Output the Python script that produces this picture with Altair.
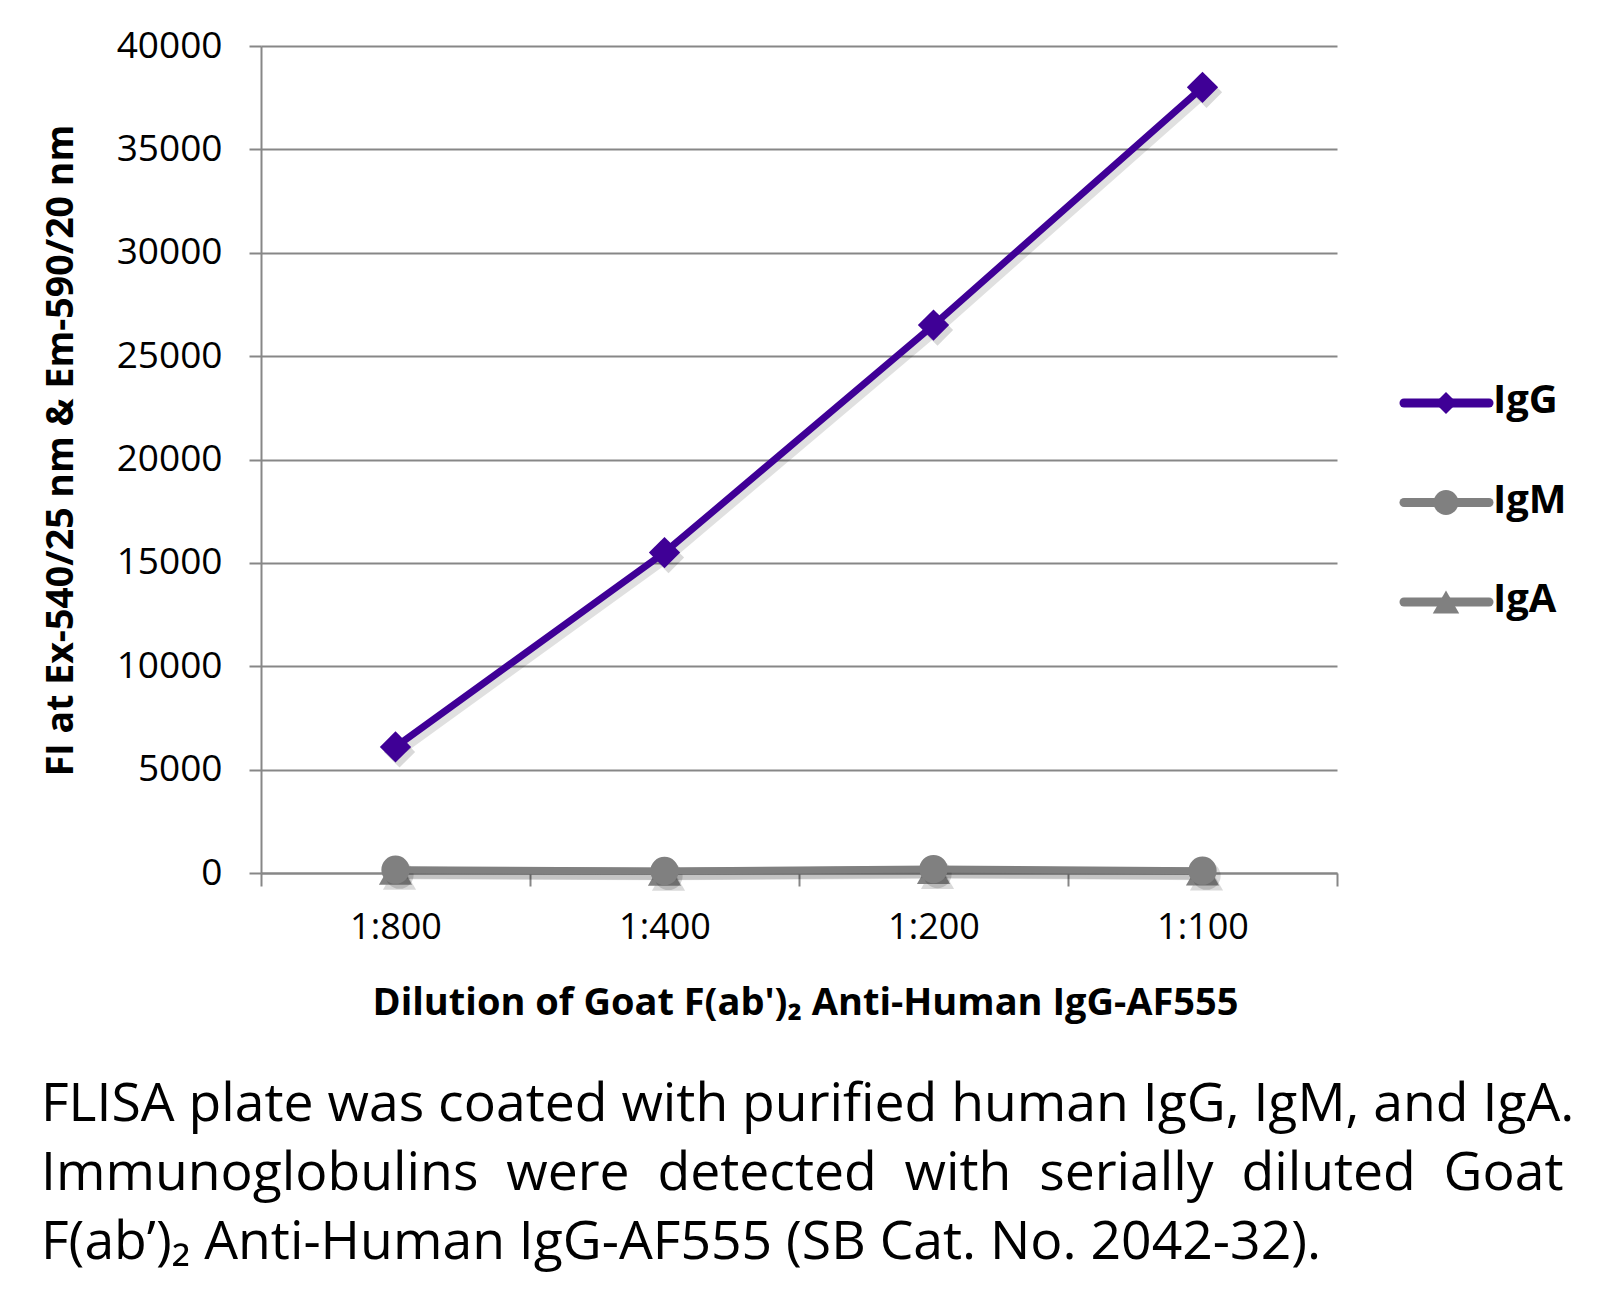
import altair as alt
import pandas as pd

# ---------------- data ----------------
dilutions = ["1:800", "1:400", "1:200", "1:100"]
igg_values = [6100, 15500, 26500, 38000]
igm_values = [160, 100, 190, 110]
iga_values = [130, 80, 160, 90]
series_names = ["IgG", "IgM", "IgA"]
series_colors = ["#3f0096", "#808080", "#808080"]
series_shapes = ["diamond", "circle", "triangle-up"]
y_ticks = [0, 5000, 10000, 15000, 20000, 25000, 30000, 35000, 40000]
x_title = "Dilution of Goat F(ab')₂ Anti-Human IgG-AF555"
y_title = "FI at Ex-540/25 nm & Em-590/20 nm"
GAP = " \u00a0"
caption_lines = [
    "FLISA plate was coated with purified human IgG, IgM, and IgA.",
    GAP.join(["Immunoglobulins", "were", "detected", "with", "serially", "diluted", "Goat"]),
    "F(ab’)₂ Anti-Human IgG-AF555 (SB Cat. No. 2042-32).",
]

values_by_series = {"IgG": igg_values, "IgM": igm_values, "IgA": iga_values}

# ---------------- layout ----------------
W, H = 1076, 827
PAD = {"left": 261, "top": 46, "right": 268, "bottom": 433}
AXIS_GRAY = "#878787"
FONT = "Open Sans"

x_enc = alt.X(
    "dilution:N",
    sort=dilutions,
    bandPosition=0.5,
    scale=alt.Scale(type="band", paddingInner=0, paddingOuter=0),
    axis=alt.Axis(
        title=x_title,
        tickBand="extent",
        labelAngle=0,
        grid=False,
        labelFont=FONT,
        labelFontSize=36,
        labelColor="black",
        labelPadding=24,
        tickSize=13,
        tickColor=AXIS_GRAY,
        tickWidth=2,
        domainColor=AXIS_GRAY,
        domainWidth=2,
        titleFont=FONT,
        titleFontSize=38,
        titleFontWeight="bold",
        titleColor="black",
        titleX=544,
        titleY=130,
        titleBaseline="middle",
        titleAlign="center",
    ),
)
y_enc = alt.Y(
    "value:Q",
    scale=alt.Scale(domain=[0, 40000], nice=False, zero=True),
    axis=alt.Axis(
        values=y_ticks,
        format="d",
        title=y_title,
        titleFont=FONT,
        titleFontSize=37.5,
        titleFontWeight="bold",
        titleColor="black",
        titleX=-200,
        titleY=404,
        titleAngle=270,
        titleAlign="center",
        titleBaseline="middle",
        labelFont=FONT,
        labelFontSize=37,
        labelColor="black",
        labelPadding=27,
        tickSize=12,
        tickColor=AXIS_GRAY,
        tickWidth=2,
        domainColor=AXIS_GRAY,
        domainWidth=2,
        gridColor=AXIS_GRAY,
        gridWidth=2,
    ),
)

layers = []
# draw order: IgA, IgM, IgG (IgG on top)
for name in ["IgA", "IgM", "IgG"]:
    i = series_names.index(name)
    df = pd.DataFrame({"dilution": dilutions, "value": values_by_series[name]})
    base = alt.Chart(df)
    shadow_line = base.mark_line(strokeWidth=8, color="#000000", opacity=0.12,
                                 xOffset=4, yOffset=5).encode(x=x_enc, y=y_enc)
    line = base.mark_line(strokeWidth=7, color=series_colors[i]).encode(x=x_enc, y=y_enc)
    size = {"diamond": 980, "circle": 800, "triangle-up": 1100}[series_shapes[i]]
    shadow_pt = base.mark_point(shape=series_shapes[i], size=size, filled=True,
                                color="#000000", opacity=0.15, xOffset=4, yOffset=5
                                ).encode(x=x_enc, y=y_enc)
    pts = base.mark_point(shape=series_shapes[i], size=size, filled=True, opacity=1,
                          color=series_colors[i]).encode(x=x_enc, y=y_enc)
    layers += [shadow_line, shadow_pt, line, pts]

# ---------------- manual legend ----------------
LEG_X0, LEG_X1, LEG_SYM, LEG_TXT = 1143, 1228, 1185, 1232
LEG_Y0, LEG_DY = 357, 99.5
legend_sizes = {"diamond": 480, "circle": 615, "triangle-up": 700}
for i, name in enumerate(series_names):
    ldf = pd.DataFrame({"series": [name]})
    yv = LEG_Y0 + i * LEG_DY
    lb = alt.Chart(ldf)
    layers.append(lb.mark_rule(strokeWidth=9, strokeCap="round", color=series_colors[i]).encode(
        x=alt.value(LEG_X0), x2=alt.value(LEG_X1), y=alt.value(yv)))
    layers.append(lb.mark_point(shape=series_shapes[i], size=legend_sizes[series_shapes[i]],
                                filled=True, opacity=1, color=series_colors[i]).encode(
        x=alt.value(LEG_SYM), y=alt.value(yv)))
    layers.append(lb.mark_text(align="left", baseline="middle", font=FONT, fontSize=40,
                               fontWeight="bold", color="black", dy=-2).encode(
        x=alt.value(LEG_TXT), y=alt.value(yv), text="series:N"))

# ---------------- caption ----------------
CAP_X = -220
CAP_BASELINES = [1075, 1144, 1213]
for i, line_text in enumerate(caption_lines):
    cdf = pd.DataFrame({"t": [line_text]})
    layers.append(alt.Chart(cdf).mark_text(align="left", baseline="alphabetic", font=FONT,
                                           fontSize=53.5, color="black").encode(
        x=alt.value(CAP_X), y=alt.value(CAP_BASELINES[i]), text="t:N"))

chart = alt.layer(*layers).properties(
    width=W, height=H,
    padding=PAD,
    autosize=alt.AutoSizeParams(type="none"),
    background="white",
).configure_view(stroke=None)

chart.save("out.html", embed_options={"renderer": "svg", "actions": False})
